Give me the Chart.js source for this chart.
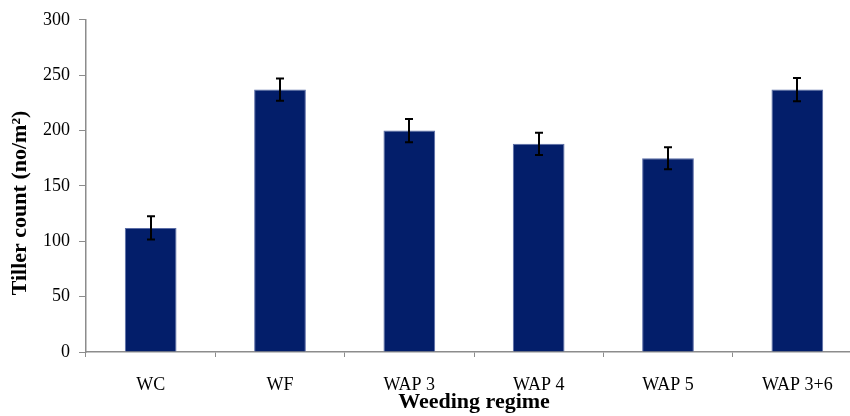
<!DOCTYPE html>
<html>
<head>
<meta charset="utf-8">
<script src="https://cdn.jsdelivr.net/npm/chart.js@4/dist/chart.umd.min.js"></script>
<style>
  html, body { margin: 0; padding: 0; background: #fff; overflow: hidden; }
  #wrap { width: 862px; height: 416px; position: relative; }
</style>
</head>
<body>
<div id="wrap"><canvas id="c" width="862" height="416"></canvas></div>
<script>
// Tiller count per weeding regime, mean with standard error
const categories = ['WC', 'WF', 'WAP 3', 'WAP 4', 'WAP 5', 'WAP 3+6'];
const tillerCount = [112, 237, 200, 188, 175, 237];
const tillerError = [10.5, 10, 10.5, 10, 10, 10.5];
const yTicks = [0, 50, 100, 150, 200, 250, 300];

const serif = '"Liberation Serif", "Times New Roman", serif';
const axisGrey = '#8c8c8c';

// Error whiskers with caps, positioned through the chart scales
const errorBars = {
  id: 'errorBars',
  afterDatasetsDraw(chart) {
    const { ctx, scales: { x, y } } = chart;
    ctx.save();
    ctx.strokeStyle = '#000';
    ctx.lineWidth = 2;
    tillerCount.forEach((v, i) => {
      const cx = Math.round(x.getPixelForValue(i));
      const top = y.getPixelForValue(v + tillerError[i]);
      const bot = y.getPixelForValue(v - tillerError[i]);
      ctx.beginPath();
      ctx.moveTo(cx, top); ctx.lineTo(cx, bot);
      ctx.moveTo(cx - 4, top); ctx.lineTo(cx + 4, top);
      ctx.moveTo(cx - 4, bot); ctx.lineTo(cx + 4, bot);
      ctx.stroke();
    });
    ctx.restore();
  }
};

// Vertical axis title
const yTitle = {
  id: 'yTitle',
  afterDraw(chart) {
    const ctx = chart.ctx;
    ctx.save();
    ctx.translate(20, 203);
    ctx.rotate(-Math.PI / 2);
    ctx.fillStyle = '#000';
    ctx.font = 'bold 22px ' + serif;
    ctx.textAlign = 'center';
    ctx.textBaseline = 'middle';
    ctx.fillText('Tiller count (no/m²)', 0, 0);
    ctx.restore();
  }
};

new Chart(document.getElementById('c'), {
  type: 'bar',
  data: {
    labels: categories,
    datasets: [{
      data: tillerCount,
      backgroundColor: '#031e6a',
      borderColor: '#5a6ca6',
      borderWidth: 1,
      barPercentage: 0.4,
      categoryPercentage: 1.0
    }]
  },
  options: {
    responsive: false,
    animation: false,
    layout: { padding: { top: 19, left: 0, right: 0, bottom: 0 } },
    plugins: { legend: { display: false }, tooltip: { enabled: false } },
    scales: {
      y: {
        min: 0, max: 300,
        afterFit(s) { s.width = 86; },
        afterBuildTicks(s) { s.ticks = yTicks.map(v => ({ value: v })); },
        grid: { drawOnChartArea: false, tickLength: 7, color: axisGrey, lineWidth: 1 },
        border: { color: axisGrey, width: 1.5 },
        ticks: { color: '#000', padding: 9, font: { family: serif, size: 18 } }
      },
      x: {
        afterFit(s) { s.height = 64; },
        grid: { drawOnChartArea: false, offset: true, tickLength: 5, color: axisGrey, lineWidth: 1 },
        border: { color: axisGrey, width: 1.5 },
        ticks: { color: '#000', padding: 17, font: { family: serif, size: 18 } },
        title: {
          display: true,
          text: 'Weeding regime',
          color: '#000',
          font: { family: serif, size: 22, weight: 'bold' },
          padding: { top: 0, bottom: 0 }
        }
      }
    }
  },
  plugins: [errorBars, yTitle]
});
</script>
</body>
</html>
